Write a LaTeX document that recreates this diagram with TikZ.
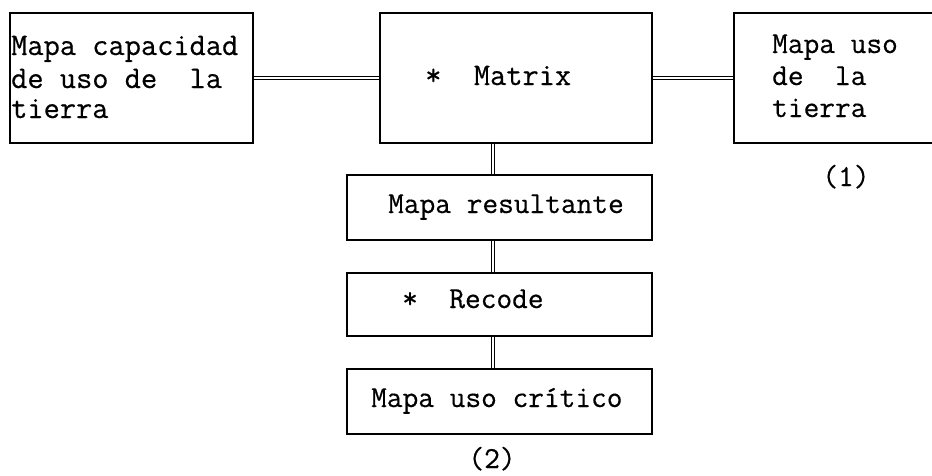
\documentclass[tikz,border=0pt]{standalone}
\usepackage{fontspec}
\newfontfamily\typefont{Latin Modern Mono}[FakeBold=0.45]
\begin{document}
\begin{tikzpicture}[x=1pt,y=-1pt,
  box/.style={draw, line width=1.3pt, rectangle, inner sep=0pt},
  conn/.style={double, line width=1.1pt, double distance=2.6pt},
  txt/.style={font=\fontsize{31.5}{34}\selectfont\typefont, inner sep=0pt, anchor=base west},
  txts/.style={txt, font=\fontsize{30.5}{33}\selectfont\typefont}]
\useasboundingbox (0,0) rectangle (932,475);
% boxes
\node[box, minimum width=243pt, minimum height=130pt] (L) at (131.5,78) {};
\node[box, minimum width=272pt, minimum height=130pt] (M) at (516,78) {};
\node[box, minimum width=211pt, minimum height=130pt] (R) at (839.5,78) {};
\node[box, minimum width=305pt, minimum height=65pt] (Res) at (499.5,207.5) {};
\node[box, minimum width=305pt, minimum height=63pt] (Rec) at (499.5,304.5) {};
\node[box, minimum width=305pt, minimum height=65pt] (Cri) at (499.5,401.5) {};
% texts
\node[txt] (L1) at (11,55) {Mapa capacidad};
\node[txt] (L2) at (11,88) {de uso de\ \ la};
\node[txt] (L3) at (11,118) {tierra};
\node[txt] (M1) at (425,85) {*\ \ Matrix};
\node[txts] (R1) at (772,53) {Mapa uso};
\node[txts] (R2) at (772,85) {de\ \ la};
\node[txts] (R3) at (772,117) {tierra};
\node[txts, anchor=base] (n1) at (846,186) {(1)};
\node[txts] (Res1) at (388,213) {Mapa resultante};
\node[txts] (Rec1) at (402,308) {*\ \ Recode};
\node[txts] (Cri1) at (371,407) {Mapa uso crítico};
\node[txts, anchor=base] (n2) at (492,468) {(2)};
% connectors
\coordinate (vx) at (493,0);
\draw[conn] (L.east) -- (M.west);
\draw[conn] (M.east) -- (R.west);
\draw[conn] (M.south -| vx) -- (Res.north -| vx);
\draw[conn] (Res.south -| vx) -- (Rec.north -| vx);
\draw[conn] (Rec.south -| vx) -- (Cri.north -| vx);
\end{tikzpicture}
\end{document}
